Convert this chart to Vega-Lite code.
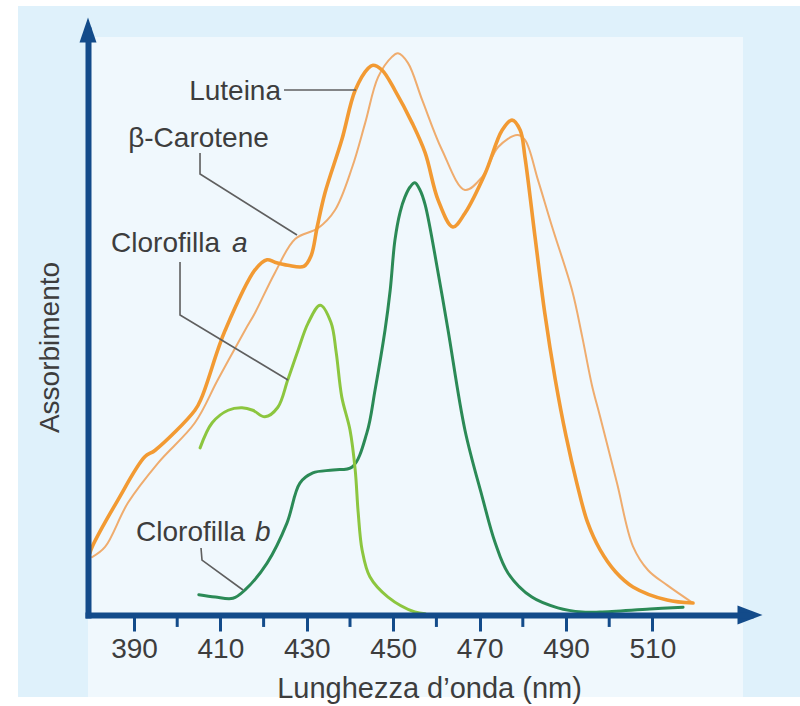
{
  "$schema": "https://vega.github.io/schema/vega-lite/v6.json",
  "width": 662,
  "height": 585,
  "autosize": {"type": "none"},
  "padding": {"left": 88, "top": 30, "right": 50, "bottom": 91},
  "background": "#ffffff",
  "config": {"view": {"stroke": null}, "font": "Liberation Sans"},
  "datasets": {
    "spectra": [
      {"pigment": "Luteina", "nm": 379.8, "abs": 10.4},
      {"pigment": "Luteina", "nm": 380.3, "abs": 11.4},
      {"pigment": "Luteina", "nm": 386.3, "abs": 19.3},
      {"pigment": "Luteina", "nm": 392.5, "abs": 26.5},
      {"pigment": "Luteina", "nm": 394.9, "abs": 27.6},
      {"pigment": "Luteina", "nm": 404.1, "abs": 34.3},
      {"pigment": "Luteina", "nm": 405.7, "abs": 36.5},
      {"pigment": "Luteina", "nm": 409.4, "abs": 44.4},
      {"pigment": "Luteina", "nm": 411.1, "abs": 47.7},
      {"pigment": "Luteina", "nm": 418.0, "abs": 57.8},
      {"pigment": "Luteina", "nm": 420.8, "abs": 59.5},
      {"pigment": "Luteina", "nm": 422.6, "abs": 59.1},
      {"pigment": "Luteina", "nm": 425.6, "abs": 58.6},
      {"pigment": "Luteina", "nm": 429.3, "abs": 58.4},
      {"pigment": "Luteina", "nm": 431.0, "abs": 60.2},
      {"pigment": "Luteina", "nm": 432.4, "abs": 65.0},
      {"pigment": "Luteina", "nm": 434.2, "abs": 70.7},
      {"pigment": "Luteina", "nm": 438.1, "abs": 79.6},
      {"pigment": "Luteina", "nm": 441.2, "abs": 87.9},
      {"pigment": "Luteina", "nm": 444.2, "abs": 91.6},
      {"pigment": "Luteina", "nm": 445.3, "abs": 92.1},
      {"pigment": "Luteina", "nm": 447.4, "abs": 91.3},
      {"pigment": "Luteina", "nm": 450.4, "abs": 87.9},
      {"pigment": "Luteina", "nm": 454.4, "abs": 82.4},
      {"pigment": "Luteina", "nm": 457.4, "abs": 77.4},
      {"pigment": "Luteina", "nm": 460.4, "abs": 69.5},
      {"pigment": "Luteina", "nm": 463.8, "abs": 65.0},
      {"pigment": "Luteina", "nm": 466.6, "abs": 67.3},
      {"pigment": "Luteina", "nm": 471.3, "abs": 74.0},
      {"pigment": "Luteina", "nm": 475.2, "abs": 81.2},
      {"pigment": "Luteina", "nm": 477.5, "abs": 82.9},
      {"pigment": "Luteina", "nm": 479.4, "abs": 81.2},
      {"pigment": "Luteina", "nm": 480.5, "abs": 76.7},
      {"pigment": "Luteina", "nm": 482.8, "abs": 63.5},
      {"pigment": "Luteina", "nm": 485.1, "abs": 50.5},
      {"pigment": "Luteina", "nm": 487.5, "abs": 39.5},
      {"pigment": "Luteina", "nm": 490.0, "abs": 30.0},
      {"pigment": "Luteina", "nm": 492.5, "abs": 22.1},
      {"pigment": "Luteina", "nm": 495.0, "abs": 15.5},
      {"pigment": "Luteina", "nm": 497.9, "abs": 10.9},
      {"pigment": "Luteina", "nm": 501.5, "abs": 7.2},
      {"pigment": "Luteina", "nm": 505.5, "abs": 4.7},
      {"pigment": "Luteina", "nm": 513.4, "abs": 2.5},
      {"pigment": "Luteina", "nm": 519.4, "abs": 2.0},
      {"pigment": "β-Carotene", "nm": 380.3, "abs": 9.7},
      {"pigment": "β-Carotene", "nm": 383.3, "abs": 11.4},
      {"pigment": "β-Carotene", "nm": 388.6, "abs": 18.8},
      {"pigment": "β-Carotene", "nm": 395.6, "abs": 25.5},
      {"pigment": "β-Carotene", "nm": 404.1, "abs": 32.2},
      {"pigment": "β-Carotene", "nm": 409.4, "abs": 39.4},
      {"pigment": "β-Carotene", "nm": 415.7, "abs": 47.7},
      {"pigment": "β-Carotene", "nm": 418.0, "abs": 50.6},
      {"pigment": "β-Carotene", "nm": 422.6, "abs": 57.3},
      {"pigment": "β-Carotene", "nm": 427.3, "abs": 63.0},
      {"pigment": "β-Carotene", "nm": 432.6, "abs": 64.8},
      {"pigment": "β-Carotene", "nm": 436.5, "abs": 67.8},
      {"pigment": "β-Carotene", "nm": 440.5, "abs": 75.0},
      {"pigment": "β-Carotene", "nm": 443.5, "abs": 82.4},
      {"pigment": "β-Carotene", "nm": 446.5, "abs": 90.1},
      {"pigment": "β-Carotene", "nm": 449.7, "abs": 93.5},
      {"pigment": "β-Carotene", "nm": 451.1, "abs": 94.1},
      {"pigment": "β-Carotene", "nm": 453.4, "abs": 92.5},
      {"pigment": "β-Carotene", "nm": 456.7, "abs": 86.3},
      {"pigment": "β-Carotene", "nm": 461.3, "abs": 77.9},
      {"pigment": "β-Carotene", "nm": 466.6, "abs": 71.2},
      {"pigment": "β-Carotene", "nm": 470.6, "abs": 73.4},
      {"pigment": "β-Carotene", "nm": 474.3, "abs": 78.4},
      {"pigment": "β-Carotene", "nm": 478.7, "abs": 80.4},
      {"pigment": "β-Carotene", "nm": 480.5, "abs": 79.6},
      {"pigment": "β-Carotene", "nm": 483.5, "abs": 72.9},
      {"pigment": "β-Carotene", "nm": 486.8, "abs": 65.0},
      {"pigment": "β-Carotene", "nm": 491.4, "abs": 54.4},
      {"pigment": "β-Carotene", "nm": 493.7, "abs": 46.8},
      {"pigment": "β-Carotene", "nm": 496.0, "abs": 38.5},
      {"pigment": "β-Carotene", "nm": 497.9, "abs": 33.2},
      {"pigment": "β-Carotene", "nm": 501.8, "abs": 22.1},
      {"pigment": "β-Carotene", "nm": 505.5, "abs": 11.5},
      {"pigment": "β-Carotene", "nm": 509.0, "abs": 7.5},
      {"pigment": "β-Carotene", "nm": 513.4, "abs": 5.0},
      {"pigment": "β-Carotene", "nm": 519.4, "abs": 2.0},
      {"pigment": "Clorofilla a", "nm": 405.3, "abs": 28.0},
      {"pigment": "Clorofilla a", "nm": 408.1, "abs": 32.2},
      {"pigment": "Clorofilla a", "nm": 411.8, "abs": 34.3},
      {"pigment": "Clorofilla a", "nm": 415.0, "abs": 34.7},
      {"pigment": "Clorofilla a", "nm": 417.5, "abs": 34.3},
      {"pigment": "Clorofilla a", "nm": 420.3, "abs": 33.2},
      {"pigment": "Clorofilla a", "nm": 423.3, "abs": 34.8},
      {"pigment": "Clorofilla a", "nm": 425.6, "abs": 39.4},
      {"pigment": "Clorofilla a", "nm": 428.0, "abs": 44.4},
      {"pigment": "Clorofilla a", "nm": 430.3, "abs": 48.9},
      {"pigment": "Clorofilla a", "nm": 433.1, "abs": 51.9},
      {"pigment": "Clorofilla a", "nm": 435.6, "abs": 49.0},
      {"pigment": "Clorofilla a", "nm": 436.8, "abs": 44.0},
      {"pigment": "Clorofilla a", "nm": 438.1, "abs": 36.5},
      {"pigment": "Clorofilla a", "nm": 440.0, "abs": 31.0},
      {"pigment": "Clorofilla a", "nm": 441.2, "abs": 24.3},
      {"pigment": "Clorofilla a", "nm": 441.9, "abs": 17.1},
      {"pigment": "Clorofilla a", "nm": 442.8, "abs": 10.9},
      {"pigment": "Clorofilla a", "nm": 444.6, "abs": 6.4},
      {"pigment": "Clorofilla a", "nm": 448.8, "abs": 3.0},
      {"pigment": "Clorofilla a", "nm": 455.0, "abs": 0.5},
      {"pigment": "Clorofilla a", "nm": 457.4, "abs": 0.2},
      {"pigment": "Clorofilla b", "nm": 405.0, "abs": 3.4},
      {"pigment": "Clorofilla b", "nm": 408.8, "abs": 3.0},
      {"pigment": "Clorofilla b", "nm": 412.9, "abs": 2.8},
      {"pigment": "Clorofilla b", "nm": 415.7, "abs": 4.2},
      {"pigment": "Clorofilla b", "nm": 420.8, "abs": 8.7},
      {"pigment": "Clorofilla b", "nm": 425.4, "abs": 15.4},
      {"pigment": "Clorofilla b", "nm": 428.4, "abs": 22.1},
      {"pigment": "Clorofilla b", "nm": 431.4, "abs": 23.8},
      {"pigment": "Clorofilla b", "nm": 436.1, "abs": 24.3},
      {"pigment": "Clorofilla b", "nm": 440.5, "abs": 24.8},
      {"pigment": "Clorofilla b", "nm": 443.9, "abs": 30.5},
      {"pigment": "Clorofilla b", "nm": 445.8, "abs": 37.7},
      {"pigment": "Clorofilla b", "nm": 448.1, "abs": 47.7},
      {"pigment": "Clorofilla b", "nm": 449.3, "abs": 54.4},
      {"pigment": "Clorofilla b", "nm": 450.4, "abs": 62.8},
      {"pigment": "Clorofilla b", "nm": 451.6, "abs": 67.5},
      {"pigment": "Clorofilla b", "nm": 452.7, "abs": 70.0},
      {"pigment": "Clorofilla b", "nm": 453.9, "abs": 71.7},
      {"pigment": "Clorofilla b", "nm": 455.0, "abs": 72.4},
      {"pigment": "Clorofilla b", "nm": 456.2, "abs": 71.2},
      {"pigment": "Clorofilla b", "nm": 457.4, "abs": 68.7},
      {"pigment": "Clorofilla b", "nm": 460.4, "abs": 57.3},
      {"pigment": "Clorofilla b", "nm": 462.7, "abs": 47.7},
      {"pigment": "Clorofilla b", "nm": 466.6, "abs": 31.0},
      {"pigment": "Clorofilla b", "nm": 470.6, "abs": 19.8},
      {"pigment": "Clorofilla b", "nm": 473.6, "abs": 12.1},
      {"pigment": "Clorofilla b", "nm": 476.6, "abs": 7.0},
      {"pigment": "Clorofilla b", "nm": 482.1, "abs": 3.0},
      {"pigment": "Clorofilla b", "nm": 488.1, "abs": 1.2},
      {"pigment": "Clorofilla b", "nm": 493.7, "abs": 0.5},
      {"pigment": "Clorofilla b", "nm": 497.9, "abs": 0.5},
      {"pigment": "Clorofilla b", "nm": 509.4, "abs": 1.0},
      {"pigment": "Clorofilla b", "nm": 517.1, "abs": 1.3}
    ],
    "minorTicks": [
      {"nm": 400}, {"nm": 420}, {"nm": 440}, {"nm": 460}, {"nm": 480}, {"nm": 500}
    ],
    "leaders": [
      {"id": "Luteina", "seq": 1, "nm": 424.72, "abs": 87.96},
      {"id": "Luteina", "seq": 2, "nm": 441.39, "abs": 87.96},
      {"id": "β-Carotene", "seq": 1, "nm": 405.28, "abs": 77.4},
      {"id": "β-Carotene", "seq": 2, "nm": 405.28, "abs": 73.88},
      {"id": "β-Carotene", "seq": 3, "nm": 427.73, "abs": 63.66},
      {"id": "Clorofilla a", "seq": 1, "nm": 400.65, "abs": 59.14},
      {"id": "Clorofilla a", "seq": 2, "nm": 400.65, "abs": 50.26},
      {"id": "Clorofilla a", "seq": 3, "nm": 425.65, "abs": 39.37},
      {"id": "Clorofilla b", "seq": 1, "nm": 405.51, "abs": 11.22},
      {"id": "Clorofilla b", "seq": 2, "nm": 405.74, "abs": 9.21},
      {"id": "Clorofilla b", "seq": 3, "nm": 415.23, "abs": 4.19}
    ],
    "labelsRight": [
      {"text": "Luteina", "nm": 424.03, "abs": 87.53},
      {"text": "Clorofilla", "nm": 409.91, "abs": 62.15},
      {"text": "Clorofilla", "nm": 415.69, "abs": 13.74}
    ],
    "labelsCenter": [
      {"text": "β-Carotene", "nm": 404.93, "abs": 79.75}
    ],
    "labelsItalic": [
      {"text": "a", "nm": 412.68, "abs": 62.15},
      {"text": "b", "nm": 418.01, "abs": 13.74}
    ]
  },
  "layer": [
    {
      "data": {"values": [{}]},
      "mark": {"type": "rect", "color": "#dff1fb"},
      "encoding": {
        "x": {
          "datum": 363.15, "type": "quantitative",
          "scale": {"domain": [379.35, 532.59], "nice": false, "zero": false},
          "axis": {
            "values": [390, 410, 430, 450, 470, 490, 510],
            "format": "d",
            "grid": false,
            "domainColor": "#134b8a", "domainWidth": 6, "domainCap": "square",
            "tickColor": "#134b8a", "tickWidth": 3, "tickSize": 16,
            "labelFont": "Liberation Sans", "labelFontSize": 28, "labelColor": "#3d3d3d", "labelPadding": 4,
            "title": "Lunghezza d’onda (nm)",
            "titleFont": "Liberation Sans", "titleFontSize": 29, "titleFontWeight": "normal", "titleColor": "#3d3d3d",
            "titlePadding": 11, "titleX": 341,
            "zindex": 1
          }
        },
        "x2": {"datum": 546},
        "y": {
          "datum": 102.03, "type": "quantitative",
          "scale": {"domain": [0, 98], "nice": false, "zero": false},
          "axis": {
            "ticks": false, "labels": false, "grid": false,
            "domainColor": "#134b8a", "domainWidth": 6, "domainCap": "square",
            "title": "Assorbimento",
            "titleFont": "Liberation Sans", "titleFontSize": 28, "titleFontWeight": "normal", "titleColor": "#3d3d3d",
            "titlePadding": 24, "titleY": 317,
            "zindex": 1
          }
        },
        "y2": {"datum": -13.74}
      }
    },
    {
      "data": {"values": [{}]},
      "mark": {"type": "rect", "color": "#f0f8fd"},
      "encoding": {
        "x": {"datum": 379.35, "type": "quantitative", "scale": {"domain": [379.35, 532.59], "nice": false, "zero": false}},
        "x2": {"datum": 530.97},
        "y": {"datum": 96.83, "type": "quantitative", "scale": {"domain": [0, 98], "nice": false, "zero": false}},
        "y2": {"datum": -13.74}
      }
    },
    {
      "data": {"name": "spectra"},
      "transform": [{"filter": "datum.pigment === 'Clorofilla b'"}],
      "mark": {"type": "line", "interpolate": "catmull-rom", "strokeCap": "round", "strokeJoin": "round", "color": "#2b8a56", "strokeWidth": 3},
      "encoding": {
        "x": {"field": "nm", "type": "quantitative", "scale": {"domain": [379.35, 532.59], "nice": false, "zero": false}},
        "y": {"field": "abs", "type": "quantitative", "scale": {"domain": [0, 98], "nice": false, "zero": false}}
      }
    },
    {
      "data": {"name": "spectra"},
      "transform": [{"filter": "datum.pigment === 'Clorofilla a'"}],
      "mark": {"type": "line", "interpolate": "catmull-rom", "strokeCap": "round", "strokeJoin": "round", "color": "#8cc63f", "strokeWidth": 3},
      "encoding": {
        "x": {"field": "nm", "type": "quantitative", "scale": {"domain": [379.35, 532.59], "nice": false, "zero": false}},
        "y": {"field": "abs", "type": "quantitative", "scale": {"domain": [0, 98], "nice": false, "zero": false}}
      }
    },
    {
      "data": {"name": "spectra"},
      "transform": [{"filter": "datum.pigment === 'β-Carotene'"}],
      "mark": {"type": "line", "interpolate": "catmull-rom", "strokeCap": "round", "strokeJoin": "round", "color": "#efac6e", "strokeWidth": 2},
      "encoding": {
        "x": {"field": "nm", "type": "quantitative", "scale": {"domain": [379.35, 532.59], "nice": false, "zero": false}},
        "y": {"field": "abs", "type": "quantitative", "scale": {"domain": [0, 98], "nice": false, "zero": false}}
      }
    },
    {
      "data": {"name": "spectra"},
      "transform": [{"filter": "datum.pigment === 'Luteina'"}],
      "mark": {"type": "line", "interpolate": "catmull-rom", "strokeCap": "round", "strokeJoin": "round", "color": "#f29a33", "strokeWidth": 3.6},
      "encoding": {
        "x": {"field": "nm", "type": "quantitative", "scale": {"domain": [379.35, 532.59], "nice": false, "zero": false}},
        "y": {"field": "abs", "type": "quantitative", "scale": {"domain": [0, 98], "nice": false, "zero": false}}
      }
    },
    {
      "data": {"name": "minorTicks"},
      "mark": {"type": "rule", "color": "#134b8a", "strokeWidth": 3},
      "encoding": {
        "x": {"field": "nm", "type": "quantitative", "scale": {"domain": [379.35, 532.59], "nice": false, "zero": false}},
        "y": {"datum": 0, "type": "quantitative", "scale": {"domain": [0, 98], "nice": false, "zero": false}},
        "y2": {"datum": -2.0}
      }
    },
    {
      "data": {"name": "leaders"},
      "mark": {"type": "line", "color": "#5f5f5f", "strokeWidth": 1.6},
      "encoding": {
        "x": {"field": "nm", "type": "quantitative", "scale": {"domain": [379.35, 532.59], "nice": false, "zero": false}},
        "y": {"field": "abs", "type": "quantitative", "scale": {"domain": [0, 98], "nice": false, "zero": false}},
        "detail": {"field": "id", "type": "nominal"},
        "order": {"field": "seq", "type": "quantitative"}
      }
    },
    {
      "data": {"name": "labelsRight"},
      "mark": {"type": "text", "align": "right", "baseline": "middle", "font": "Liberation Sans", "fontSize": 28, "color": "#3d3d3d"},
      "encoding": {
        "x": {"field": "nm", "type": "quantitative", "scale": {"domain": [379.35, 532.59], "nice": false, "zero": false}},
        "y": {"field": "abs", "type": "quantitative", "scale": {"domain": [0, 98], "nice": false, "zero": false}},
        "text": {"field": "text", "type": "nominal"}
      }
    },
    {
      "data": {"name": "labelsCenter"},
      "mark": {"type": "text", "align": "center", "baseline": "middle", "font": "Liberation Sans", "fontSize": 28, "color": "#3d3d3d"},
      "encoding": {
        "x": {"field": "nm", "type": "quantitative", "scale": {"domain": [379.35, 532.59], "nice": false, "zero": false}},
        "y": {"field": "abs", "type": "quantitative", "scale": {"domain": [0, 98], "nice": false, "zero": false}},
        "text": {"field": "text", "type": "nominal"}
      }
    },
    {
      "data": {"name": "labelsItalic"},
      "mark": {"type": "text", "align": "left", "baseline": "middle", "font": "Liberation Sans", "fontSize": 28, "fontStyle": "italic", "color": "#3d3d3d"},
      "encoding": {
        "x": {"field": "nm", "type": "quantitative", "scale": {"domain": [379.35, 532.59], "nice": false, "zero": false}},
        "y": {"field": "abs", "type": "quantitative", "scale": {"domain": [0, 98], "nice": false, "zero": false}},
        "text": {"field": "text", "type": "nominal"}
      }
    },
    {
      "data": {"values": [{}]},
      "mark": {"type": "point", "shape": "M0,-1L0.68,1L-0.68,1Z", "size": 625, "filled": true, "color": "#134b8a", "opacity": 1},
      "encoding": {
        "x": {"datum": 379.35, "type": "quantitative", "scale": {"domain": [379.35, 532.59], "nice": false, "zero": false}},
        "y": {"datum": 98, "type": "quantitative", "scale": {"domain": [0, 98], "nice": false, "zero": false}}
      }
    },
    {
      "data": {"values": [{}]},
      "mark": {"type": "point", "shape": "M1,0L-1,-0.76L-1,0.76Z", "size": 625, "filled": true, "color": "#134b8a", "opacity": 1},
      "encoding": {
        "x": {"datum": 532.59, "type": "quantitative", "scale": {"domain": [379.35, 532.59], "nice": false, "zero": false}},
        "y": {"datum": 0, "type": "quantitative", "scale": {"domain": [0, 98], "nice": false, "zero": false}}
      }
    }
  ]
}
